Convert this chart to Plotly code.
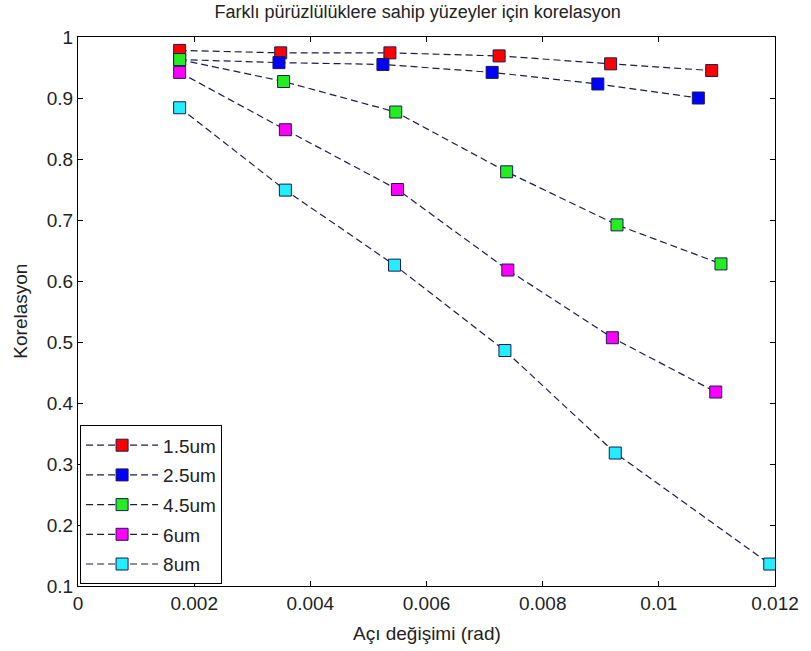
import plotly.graph_objects as go

# Angle change (rad) and correlation for each surface roughness
x_15 = [0.00175, 0.00349, 0.00537, 0.00725, 0.00917, 0.01091]
y_15 = [0.978, 0.974, 0.974, 0.969, 0.956, 0.945]

x_25 = [0.00175, 0.00346, 0.00525, 0.00713, 0.00895, 0.01068]
y_25 = [0.963, 0.958, 0.955, 0.942, 0.923, 0.900]

x_45 = [0.00175, 0.00354, 0.00547, 0.00738, 0.00928, 0.01107]
y_45 = [0.963, 0.927, 0.877, 0.779, 0.692, 0.628]

x_6 = [0.00175, 0.00357, 0.00550, 0.00740, 0.00920, 0.01098]
y_6 = [0.942, 0.848, 0.750, 0.618, 0.507, 0.418]

x_8 = [0.00175, 0.00357, 0.00545, 0.00735, 0.00925, 0.01191]
y_8 = [0.884, 0.749, 0.626, 0.486, 0.318, 0.136]

series_names = ["1.5um", "2.5um", "4.5um", "6um", "8um"]
marker_colors = ["#ff0000", "#0000ff", "#22ee22", "#ff00ff", "#22eeff"]

x_ticks = [0, 0.002, 0.004, 0.006, 0.008, 0.01, 0.012]
x_labels = ["0", "0.002", "0.004", "0.006", "0.008", "0.01", "0.012"]
y_ticks = [0.1, 0.2, 0.3, 0.4, 0.5, 0.6, 0.7, 0.8, 0.9, 1.0]
y_labels = ["0.1", "0.2", "0.3", "0.4", "0.5", "0.6", "0.7", "0.8", "0.9", "1"]

line_color = "#1c1c4c"
font_family = "Liberation Sans, Arial, sans-serif"
text_color = "#222222"

fig = go.Figure()
for i, (xs, ys) in enumerate([(x_15, y_15), (x_25, y_25), (x_45, y_45), (x_6, y_6), (x_8, y_8)]):
    fig.add_trace(go.Scatter(
        x=xs, y=ys, mode="lines+markers", name=series_names[i],
        legendgroup=series_names[i],
        line=dict(color=line_color, width=1.2, dash="7px,4px"),
        marker=dict(symbol="square", size=12, color=marker_colors[i],
                    line=dict(color=line_color, width=1)),
    ))

axis_common = dict(
    showgrid=False, zeroline=False, showline=True, linecolor="black", linewidth=1,
    mirror="ticks", ticks="inside", ticklen=5, tickcolor="black",
    tickfont=dict(family=font_family, size=19, color=text_color),
)

fig.update_layout(
    width=811, height=651,
    margin=dict(l=78, r=34, t=37, b=65),
    paper_bgcolor="white", plot_bgcolor="white",
    title=dict(text="Farklı pürüzlülüklere sahip yüzeyler için korelasyon",
               x=0.515, xanchor="center", y=0.982, yanchor="middle",
               font=dict(family=font_family, size=18, color=text_color)),
    xaxis=dict(range=[0, 0.012], tickvals=x_ticks, ticktext=x_labels,
               **axis_common),
    yaxis=dict(range=[0.1, 1.0], tickvals=y_ticks, ticktext=y_labels,
               **axis_common),
    legend=dict(x=0.003, y=0.003, xanchor="left", yanchor="bottom",
                bgcolor="white", bordercolor="black", borderwidth=1,
                font=dict(family=font_family, size=19, color=text_color),
                tracegroupgap=2, itemwidth=72),
    showlegend=True,
)

# axis labels
fig.add_annotation(text="Açı değişimi (rad)", xref="paper", yref="paper",
                   x=0.5, y=-0.086, xanchor="center", yanchor="middle",
                   showarrow=False,
                   font=dict(family=font_family, size=19, color=text_color))
fig.add_annotation(text="Korelasyon", xref="paper", yref="paper",
                   x=-0.083, y=0.5, xanchor="center", yanchor="middle",
                   textangle=-90, showarrow=False,
                   font=dict(family=font_family, size=19, color=text_color))

fig.write_html("out.html")
